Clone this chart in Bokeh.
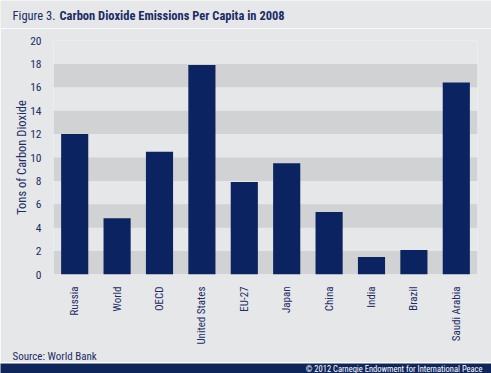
from bokeh.plotting import figure
from bokeh.layouts import column
from bokeh.models import BoxAnnotation, FixedTicker, Range1d, Title
from bokeh.core.properties import value
from bokeh.embed import file_html
from bokeh.resources import INLINE
import math

# ---- data ----
categories = ["Russia", "World", "OECD", "United States", "EU-27",
              "Japan", "China", "India", "Brazil", "Saudi Arabia"]
emissions = [12.0, 4.8, 10.5, 17.9, 7.9, 9.5, 5.35, 1.5, 2.1, 16.4]
y_ticks = [0, 2, 4, 6, 8, 10, 12, 14, 16, 18, 20]

title_prefix = "Figure 3."
title_main = "Carbon Dioxide Emissions Per Capita in 2008"
y_label = "Tons of Carbon Dioxide"
source_text = "Source: World Bank"
footer_text = "\u00a9 2012 Carnegie Endowment for International Peace"

# ---- style ----
W = 491
BG = "#E6E7E8"
BAND = "#D1D2D4"
NAVY = "#0B2461"
FOOT = "#0E2659"
TXT = "#1B2C66"
FONT = "'Liberation Sans Narrow', 'Roboto Condensed', 'Noto Sans', sans-serif"


def strip(fig, bg=BG):
    fig.axis.visible = False
    fig.grid.visible = False
    fig.outline_line_color = None
    fig.background_fill_color = bg
    fig.border_fill_color = bg
    fig.min_border = 0
    fig.frame_align = False
    return fig


# ---- title strip ----
TOP_H = 28
top = strip(figure(width=W, height=TOP_H, x_range=Range1d(0, W),
                   y_range=Range1d(TOP_H, 0), output_backend="svg",
                   toolbar_location=None))
top.text(x=[12], y=[15], text=[title_prefix], text_font=value(FONT),
         text_font_size="12.5px", text_color=TXT, text_baseline="middle")
top.text(x=[59], y=[15], text=[title_main], text_font=value(FONT),
         text_font_size="12.5px", text_font_style="bold", text_color=TXT,
         text_baseline="middle")

# ---- main chart (numeric x: one unit per category) ----
MAIN_H = 334
n = len(categories)
xs = [i + 0.5 for i in range(n)]
p = figure(width=W, height=MAIN_H, x_range=Range1d(0, n),
           y_range=Range1d(0, 20), output_backend="svg", toolbar_location=None,
           min_border_left=53, min_border_right=14, min_border_top=12,
           min_border_bottom=87)
p.frame_align = False
p.background_fill_color = BG
p.border_fill_color = BG
p.outline_line_color = None
p.xgrid.visible = False
p.ygrid.visible = False

for b in y_ticks[:-1][::2]:
    p.add_layout(BoxAnnotation(bottom=b, top=b + 2, fill_color=BAND,
                               fill_alpha=1, line_color=None, level="underlay"))

p.vbar(x=xs, top=emissions, width=0.64, color=NAVY, line_color=None)

p.yaxis.ticker = FixedTicker(ticks=y_ticks)
p.xaxis.ticker = FixedTicker(ticks=xs)
p.xaxis.major_label_overrides = {x: c for x, c in zip(xs, categories)}
for ax in (p.xaxis, p.yaxis):
    ax.axis_line_color = None
    ax.major_tick_line_color = None
    ax.minor_tick_line_color = None
    ax.major_label_text_color = TXT
    ax.major_label_text_font = FONT
    ax.major_label_text_font_size = "11.5px"
p.xaxis.major_label_text_font_size = "11px"
p.yaxis.major_label_standoff = 6
p.yaxis.axis_label = y_label
p.yaxis.axis_label_text_font = FONT
p.yaxis.axis_label_text_font_size = "12.5px"
p.yaxis.axis_label_text_font_style = "normal"
p.yaxis.axis_label_text_color = TXT
p.yaxis.axis_label_standoff = -2
p.xaxis.major_label_orientation = math.pi / 2
p.xaxis.major_label_standoff = 6

# source line, placed below the category labels, flush with the page's left text
p.add_layout(Title(text=source_text, align="left", offset=-41, standoff=0,
                   text_font=FONT, text_font_size="11px",
                   text_font_style="normal", text_color=TXT), "below")

# ---- footer bar ----
BOT_H = 373 - TOP_H - MAIN_H
bot = strip(figure(width=W, height=BOT_H, x_range=Range1d(0, W),
                   y_range=Range1d(BOT_H, 0), output_backend="svg",
                   toolbar_location=None), bg=FOOT)
bot.text(x=[482], y=[BOT_H / 2], text=[footer_text], text_font=value(FONT),
         text_font_size="8.5px", text_color="white", text_align="right",
         text_baseline="middle")

layout = column(top, p, bot, spacing=0)
open("out.html", "w").write(file_html(layout, INLINE))
